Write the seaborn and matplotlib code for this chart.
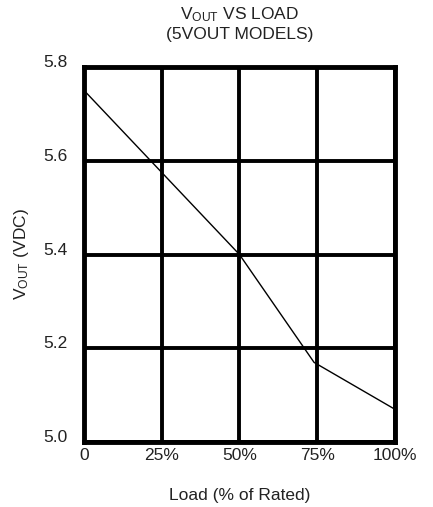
import matplotlib
matplotlib.use("Agg")
import matplotlib.pyplot as plt
import seaborn as sns
import pandas as pd

# load (% of rated) vs output voltage
load_pct = [0, 25, 50, 74, 100]
vout = [5.75, 5.575, 5.40, 5.17, 5.07]

x_ticks = [0, 25, 50, 75, 100]
x_labels = ['0', '25%', '50%', '75%', '100%']
y_ticks = [5.0, 5.2, 5.4, 5.6, 5.8]
y_labels = ['5.0', '5.2', '5.4', '5.6', '5.8']

df = pd.DataFrame({'load': load_pct, 'vout': vout})

sns.set_style('white')
plt.rcParams['font.family'] = ['Liberation Sans', 'DejaVu Sans']
plt.rcParams['mathtext.default'] = 'regular'

fig = plt.figure(figsize=(4.33, 5.07), dpi=100)
ax = fig.add_axes([0.194, 0.128, 0.718, 0.740])

sns.lineplot(data=df, x='load', y='vout', color='black', linewidth=1.0, ax=ax)

ax.set_xlim(0, 100)
ax.set_ylim(5.0, 5.8)
ax.set_xticks(x_ticks)
ax.set_xticklabels(x_labels)
ax.set_yticks(y_ticks)
ax.set_yticklabels(y_labels, va='baseline')
ax.tick_params(axis='both', length=0, labelsize=12.5, colors='#222222')
ax.tick_params(axis='y', pad=12)
ax.tick_params(axis='x', pad=4)

# heavy grid like the datasheet
ax.grid(True, color='black', linewidth=2.8)
ax.set_axisbelow(True)
for s in ax.spines.values():
    s.set_color('black')
    s.set_linewidth(3.5)

ax.set_xlabel('Load (% of Rated)', fontsize=12.5, color='#222222', labelpad=18)
ax.set_ylabel('V$_{OUT}$ (VDC)', fontsize=12.5, color='#222222', labelpad=9)
ax.set_title('V$_{OUT}$ VS LOAD\n(5VOUT MODELS)', fontsize=12.5, color='#222222',
             pad=20, linespacing=1.25)

fig.savefig('out.png', dpi=100)
